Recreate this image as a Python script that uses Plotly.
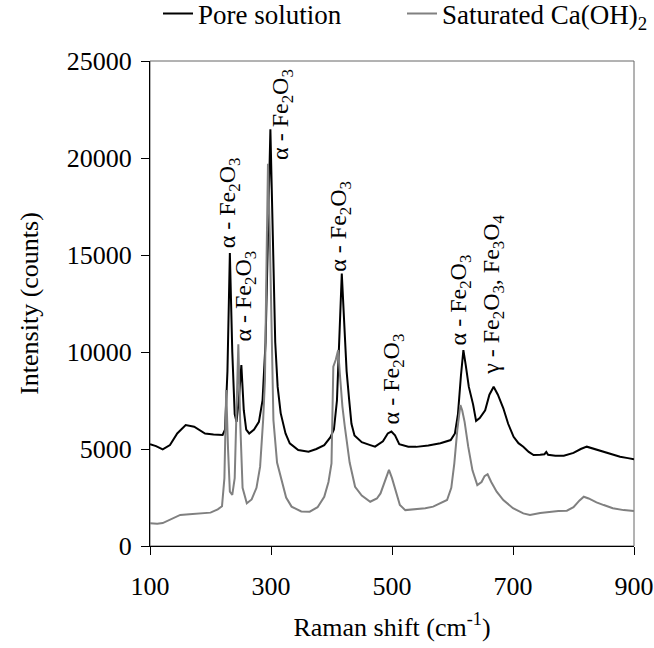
import plotly.graph_objects as go

# Pore solution (black)
pore_x = [100, 110, 121, 133, 145, 159, 173, 191, 205, 220, 224, 228, 232, 236, 240, 243, 247, 251, 255, 259,
          264, 272, 280, 286, 291, 295, 299, 303, 307, 311, 316, 324, 331, 345, 362, 375, 388, 398, 404, 409,
          413, 417, 421, 425, 429, 433, 438, 450, 464, 472, 485, 493, 499, 505, 512, 527, 540, 560, 580, 597,
          604, 609, 614, 618, 622, 627, 634, 639, 645, 654, 661, 668, 675, 684, 692, 701, 709, 717, 726, 734,
          745, 752, 755, 758, 770, 784, 800, 812, 822, 835, 850, 865, 877, 890, 900]
pore_y = [5250, 5150, 4980, 5200, 5800, 6230, 6150, 5800, 5750, 5720, 6000, 9000, 15100, 10000, 6800, 6400, 7600, 9330, 7000, 6000,
          5800, 6000, 6400, 7500, 10500, 17000, 21480, 16000, 10500, 8200, 6850, 5800, 5290, 4950, 4860, 5000, 5200, 5600, 6000, 7500,
          11000, 14050, 11500, 9000, 7600, 6300, 5700, 5350, 5200, 5120, 5400, 5800, 5900, 5700, 5250, 5120, 5110, 5180, 5300, 5460,
          5800, 6800, 8800, 10100, 9300, 8200, 7300, 6450, 6600, 7000, 7800, 8210, 7800, 7100, 6300, 5630, 5300, 5120, 4850, 4690,
          4700, 4730, 4850, 4700, 4650, 4650, 4800, 5000, 5120, 5000, 4860, 4720, 4600, 4530, 4470]

# Saturated Ca(OH)2 (grey)
sat_x = [100, 112, 121, 135, 150, 165, 185, 200, 212, 219, 223, 226, 229, 232, 236, 240, 243, 246, 249, 253,
         260, 268, 276, 282, 287, 290, 293, 295, 298, 301, 304, 310, 317, 325, 334, 350, 364, 377, 388, 395,
         400, 403, 407, 411, 414, 418, 422, 430, 439, 450, 464, 475, 481, 488, 495, 500, 507, 513, 522, 540,
         555, 568, 580, 591, 598, 603, 608, 613, 616, 620, 626, 633, 641, 648, 653, 658, 664, 673, 684, 700,
         717, 728, 745, 761, 775, 789, 800, 810, 817, 825, 838, 850, 865, 883, 900]
sat_y = [1170, 1150, 1180, 1400, 1600, 1640, 1680, 1720, 1890, 2050, 3500, 8040, 5000, 2800, 2630, 3500, 7000, 10400, 6500, 3000,
         2200, 2400, 3000, 4090, 6500, 8550, 15500, 19700, 16000, 10500, 6490, 4300, 3400, 2500, 2030, 1780, 1770, 2000, 2540, 3300,
         4260, 9240, 9600, 10100, 8800, 7200, 6150, 4300, 3050, 2600, 2280, 2450, 2710, 3300, 3920, 3500, 2700, 2110, 1850, 1900,
         1950, 2030, 2200, 2370, 3000, 4260, 6000, 7260, 7000, 6400, 5120, 3900, 3140, 3300, 3600, 3700, 3300, 2800, 2370, 1950,
         1680, 1600, 1700, 1770, 1800, 1820, 2000, 2350, 2540, 2450, 2250, 2110, 1950, 1850, 1800]

series_names = ["Pore solution", "Saturated Ca(OH)<sub>2</sub>"]

# Peak labels
label_x = [230, 257, 319, 414, 502, 612, 667]
label_y = [15250, 10460, 19800, 14060, 6150, 10250, 8720]
label_text = ["α - Fe<sub>2</sub>O<sub>3</sub>"] * 6 + ["γ - Fe<sub>2</sub>O<sub>3</sub>, Fe<sub>3</sub>O<sub>4</sub>"]

x_ticks = [100, 300, 500, 700, 900]
x_tick_labels = ["100", "300", "500", "700", "900"]
y_ticks = [0, 5000, 10000, 15000, 20000, 25000]
y_tick_labels = ["0", "5000", "10000", "15000", "20000", "25000"]

FONT = "Liberation Serif, Times New Roman, serif"

fig = go.Figure()
fig.add_trace(go.Scatter(x=pore_x, y=pore_y, mode="lines", name=series_names[0],
                         line=dict(color="#000000", width=2), legend="legend"))
fig.add_trace(go.Scatter(x=sat_x, y=sat_y, mode="lines", name=series_names[1],
                         line=dict(color="#808080", width=2), legend="legend2"))

for lx, ly, lt in zip(label_x, label_y, label_text):
    fig.add_annotation(x=lx, y=ly, text=lt, textangle=-90, showarrow=False,
                       xanchor="center", yanchor="bottom",
                       font=dict(family=FONT, size=24, color="#000000"))

legend_common = dict(orientation="h", xref="container", yref="container",
                     xanchor="left", y=1 - 14 / 648, yanchor="middle",
                     font=dict(family=FONT, size=27), bgcolor="rgba(0,0,0,0)")

fig.update_layout(
    width=654, height=648,
    margin=dict(l=150, r=20, t=61, b=102, autoexpand=False),
    paper_bgcolor="white", plot_bgcolor="white",
    font=dict(family=FONT, size=26, color="#000000"),
    showlegend=True,
    legend=dict(x=158 / 654, **legend_common),
    legend2=dict(x=402 / 654, **legend_common),
    shapes=[dict(type="rect", xref="paper", yref="paper", x0=0, y0=0, x1=1, y1=1,
                 line=dict(color="#666666", width=1), layer="below")],
)
fig.update_xaxes(range=[100, 900], tickvals=x_ticks, ticktext=x_tick_labels,
                 ticks="outside", ticklen=8, automargin=False,
                 tickcolor="#000000", showline=True, linecolor="#000000", linewidth=1,
                 showgrid=False, zeroline=False, ticklabelstandoff=9,
                 title=dict(text="Raman shift (cm<sup>-1</sup>)", standoff=17,
                            font=dict(family=FONT, size=26)))
fig.update_yaxes(range=[0, 25000], tickvals=y_ticks, ticktext=y_tick_labels,
                 ticks="outside", ticklen=8, automargin=False,
                 tickcolor="#000000", showline=True, linecolor="#000000", linewidth=1,
                 showgrid=False, zeroline=False, ticklabelstandoff=4,
                 title=dict(text="Intensity (counts)", standoff=20,
                            font=dict(family=FONT, size=26)))

fig.write_html("out.html")
